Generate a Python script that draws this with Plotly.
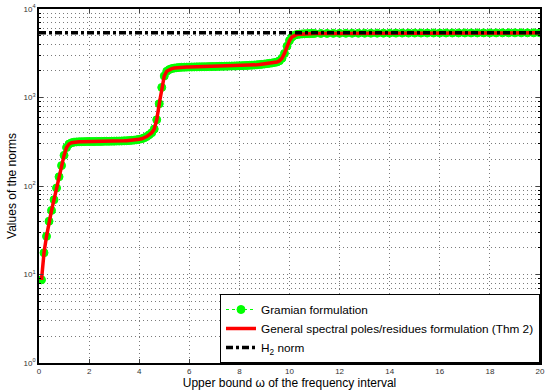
import plotly.graph_objects as go

# frequency samples (upper bound omega)
omega_a = [0.1, 0.2, 0.3, 0.4, 0.5, 0.6, 0.7, 0.8, 0.9, 1.0,
           1.1, 1.2, 1.3, 1.4, 1.5, 1.6, 1.7, 1.8, 1.9, 2.0,
           2.1, 2.2, 2.3, 2.4, 2.5, 2.6, 2.7, 2.8, 2.9, 3.0,
           3.1, 3.2, 3.3, 3.4, 3.5, 3.6, 3.7, 3.8, 3.9, 4.0,
           4.1, 4.2, 4.3, 4.4, 4.5, 4.6, 4.7, 4.8, 4.9, 5.0,
           5.1, 5.2, 5.3, 5.4, 5.5, 5.6, 5.7, 5.8, 5.9, 6.0,
           6.1, 6.2, 6.3, 6.4, 6.5, 6.6, 6.7, 6.8, 6.9, 7.0,
           7.1, 7.2, 7.3, 7.4, 7.5, 7.6, 7.7, 7.8, 7.9, 8.0,
           8.1, 8.2, 8.3, 8.4, 8.5, 8.6, 8.7, 8.8, 8.9, 9.0,
           9.1, 9.2, 9.3, 9.4, 9.5, 9.6, 9.7, 9.8, 9.9, 10.0,
           10.1, 10.2, 10.3, 10.4, 10.5, 10.6, 10.7, 10.8, 10.9, 11.0]
omega_b = [11.25, 11.5, 11.75, 12.0, 12.25, 12.5, 12.75, 13.0,
           13.25, 13.5, 13.75, 14.0, 14.25, 14.5, 14.75, 15.0,
           15.25, 15.5, 15.75, 16.0, 16.25, 16.5, 16.75, 17.0,
           17.25, 17.5, 17.75, 18.0, 18.25, 18.5, 18.75, 19.0,
           19.25, 19.5, 19.75, 20.0]

norm_a = [8.7, 17.6, 27, 40, 53, 70, 95, 127, 170, 222,
          272, 298, 308, 313, 315, 316, 317, 317, 318, 318,
          318, 318, 319, 319, 319, 320, 320, 320, 321, 321,
          322, 322, 323, 324, 325, 326, 328, 330, 333, 337,
          342, 350, 362, 380, 400, 440, 560, 850, 1300, 1750,
          1980, 2070, 2120, 2150, 2170, 2185, 2195, 2200, 2205, 2210,
          2213, 2216, 2219, 2222, 2225, 2228, 2231, 2234, 2237, 2240,
          2244, 2248, 2252, 2256, 2260, 2264, 2268, 2273, 2278, 2283,
          2289, 2295, 2302, 2310, 2318, 2328, 2340, 2355, 2372, 2390,
          2410, 2430, 2455, 2485, 2520, 2600, 2780, 3150, 3800, 4400,
          4830, 5050, 5150, 5200, 5230, 5250, 5265, 5275, 5285, 5290]
norm_b = [5295, 5300, 5305, 5310, 5314, 5318, 5322, 5325,
          5328, 5331, 5334, 5337, 5340, 5343, 5345, 5348,
          5350, 5352, 5354, 5356, 5358, 5360, 5362, 5364,
          5366, 5368, 5370, 5372, 5373, 5374, 5376, 5377,
          5378, 5379, 5380, 5381]

h2_x = [0, 20]
h2_value = 5390

omega = omega_a + omega_b
norms = norm_a + norm_b

ytick_vals = [1, 10, 100, 1000, 10000]
ytick_text = ["10<sup>0</sup>", "10<sup>1</sup>", "10<sup>2</sup>", "10<sup>3</sup>", "10<sup>4</sup>"]
ytick_minor = [m * d for d in (1, 10, 100, 1000) for m in (2, 3, 4, 5, 6, 7, 8, 9)]
xtick_vals = [0, 2, 4, 6, 8, 10, 12, 14, 16, 18, 20]

fig = go.Figure()
fig.add_trace(go.Scatter(
    x=omega, y=norms, mode="lines+markers", name="Gramian formulation",
    line=dict(color="#00ff00", width=1, dash="dot"),
    marker=dict(color="#00ff00", size=8, line=dict(color="#00ff00", width=1)),
))
fig.add_trace(go.Scatter(
    x=omega, y=norms, mode="lines",
    name="General spectral poles/residues formulation (Thm 2)",
    line=dict(color="#ff0000", width=3.5),
))
fig.add_trace(go.Scatter(
    x=h2_x, y=[h2_value, h2_value], mode="lines", name="H<sub>2</sub> norm",
    line=dict(color="black", width=3.5, dash="7px,3px,3px,3px"),
))

grid_col = "#7a7a7a"
grid_dash = "1px,3px"
fig.update_layout(
    width=548, height=390,
    margin=dict(l=39, r=3, t=8, b=27),
    paper_bgcolor="white", plot_bgcolor="white",
    font=dict(family="Liberation Sans, Arial, sans-serif", color="black"),
    showlegend=True,
    legend=dict(
        x=1, y=0, xanchor="right", yanchor="bottom",
        bgcolor="white", bordercolor="black", borderwidth=1,
        font=dict(size=11.8, color="black"),
        tracegroupgap=0, itemwidth=30,
    ),
    xaxis=dict(
        range=[0, 20], tickvals=xtick_vals, ticks="inside", ticklen=4,
        showline=True, linecolor="black", linewidth=1.5, mirror="allticks",
        showgrid=True, gridcolor=grid_col, griddash=grid_dash, gridwidth=1,
        zeroline=False,
        tickfont=dict(size=8, color="#333333"),
        title=dict(text="Upper bound \u03c9 of the frequency interval",
                   font=dict(size=12), standoff=2),
    ),
    yaxis=dict(
        type="log", range=[0, 4], tickvals=ytick_vals, ticktext=ytick_text,
        ticks="inside", ticklen=4,
        showline=True, linecolor="black", linewidth=1.5, mirror="allticks",
        showgrid=True, gridcolor=grid_col, griddash=grid_dash, gridwidth=1,
        zeroline=False,
        tickfont=dict(size=8, color="#333333"),
        minor=dict(tickmode="array", tickvals=ytick_minor,
                   ticks="inside", ticklen=2, showgrid=True,
                   gridcolor=grid_col, griddash=grid_dash, gridwidth=1, tickcolor="black"),
        title=dict(text="Values of the norms", font=dict(size=12), standoff=4),
    ),
)

fig.write_html("out.html")
